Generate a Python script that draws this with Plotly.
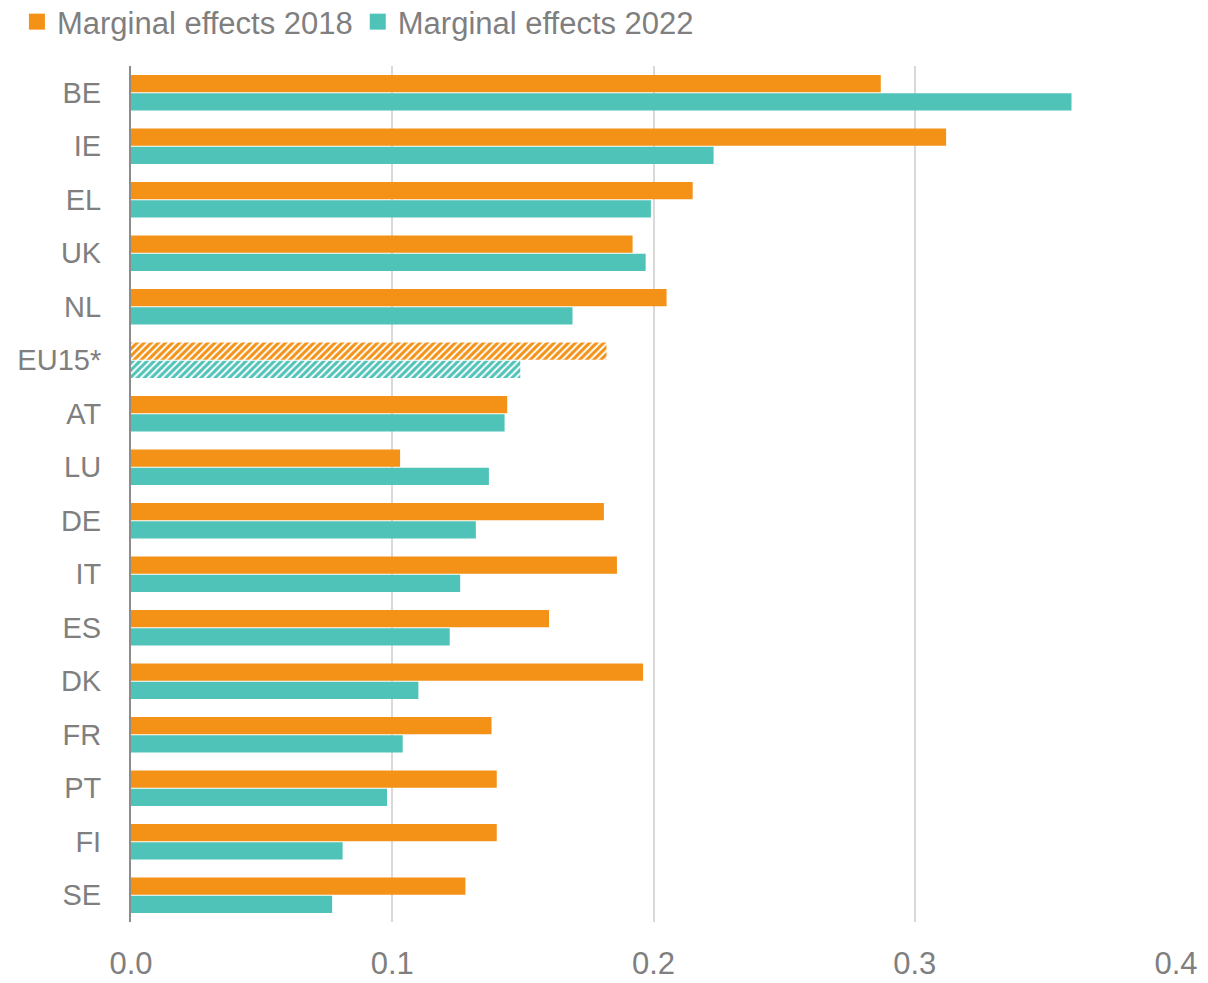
import plotly.graph_objects as go

# Country codes, top to bottom
countries = ["BE", "IE", "EL", "UK", "NL", "EU15*", "AT", "LU", "DE", "IT",
             "ES", "DK", "FR", "PT", "FI", "SE"]

# Marginal effects by year
effects_2018 = [0.287, 0.312, 0.215, 0.192, 0.205, 0.182, 0.144, 0.103, 0.181,
                0.186, 0.160, 0.196, 0.138, 0.140, 0.140, 0.128]
effects_2022 = [0.360, 0.223, 0.199, 0.197, 0.169, 0.149, 0.143, 0.137, 0.132,
                0.126, 0.122, 0.110, 0.104, 0.098, 0.081, 0.077]

x_ticks = [0.0, 0.1, 0.2, 0.3, 0.4]

ORANGE = "#F39216"
TEAL = "#50C3B8"
GREY_TEXT = "#7F7F7F"
FONT = "Arial"

# The EU15 aggregate is drawn hatched
hatch = ["/" if c == "EU15*" else "" for c in countries]

fig = go.Figure()
series = [("Marginal effects 2018", effects_2018, ORANGE),
          ("Marginal effects 2022", effects_2022, TEAL)]
for name, vals, col in series:
    fig.add_trace(go.Bar(
        y=countries, x=vals, name=name, orientation="h", showlegend=False,
        marker=dict(color=col, line=dict(width=0),
                    pattern=dict(shape=hatch, fgcolor=col, bgcolor="white",
                                 fgopacity=1, size=5, solidity=0.6)),
    ))
# Square legend keys
for name, vals, col in series:
    fig.add_trace(go.Scatter(
        x=[None], y=[None], mode="markers", name=name,
        marker=dict(symbol="square", size=17, color=col),
    ))

fig.update_layout(
    width=1208, height=983,
    barmode="group", bargap=0.32, bargroupgap=0.06,
    plot_bgcolor="white", paper_bgcolor="white",
    font=dict(family=FONT, color=GREY_TEXT, size=30),
    margin=dict(l=131, r=32, t=66, b=61, autoexpand=False),
    legend=dict(orientation="h", xref="container", yref="container",
                x=0.014, y=1 - 22 / 983, xanchor="left", yanchor="middle",
                font=dict(family=FONT, size=31, color=GREY_TEXT),
                itemclick=False, traceorder="normal"),
    showlegend=True,
)
fig.update_xaxes(range=[0, 0.4], tickvals=x_ticks, tickformat=".1f",
                 showgrid=True, gridcolor="#D9D9D9", gridwidth=1.5,
                 zeroline=False, showline=False, automargin=False,
                 ticks="outside", ticklen=14, tickcolor="rgba(0,0,0,0)",
                 tickfont=dict(family=FONT, size=31, color=GREY_TEXT))
fig.update_yaxes(autorange="reversed", showgrid=False, zeroline=False,
                 showline=True, linecolor="#8C8C8C", linewidth=2,
                 automargin=False,
                 ticks="outside", ticklen=22, tickcolor="rgba(0,0,0,0)",
                 tickfont=dict(family=FONT, size=29, color=GREY_TEXT))

fig.write_html("out.html")
